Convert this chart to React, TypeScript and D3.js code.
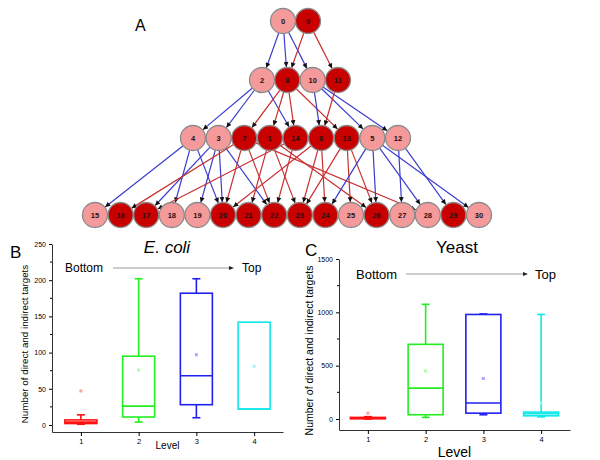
import React, { useEffect, useRef } from 'react'
import * as d3 from 'd3'

// network (panel A)
const level0 = ['0', '9']
const level1 = ['2', '8', '10', '11']
const level2 = ['4', '3', '7', '1', '14', '6', '13', '5', '12']
const level3 = ['15', '16', '17', '18', '19', '20', '21', '22', '23', '24', '25', '26', '27', '28', '29', '30']
const darkNodes = ['9', '8', '11', '7', '1', '14', '6', '13', '16', '17', '20', '21', '22', '23', '24', '26', '29']
const links: [string, string][] = [
  ['0', '2'], ['0', '8'], ['0', '10'], ['9', '8'], ['9', '11'],
  ['2', '4'], ['2', '3'], ['2', '14'],
  ['8', '7'], ['8', '1'], ['8', '14'], ['8', '13'],
  ['10', '6'], ['10', '5'], ['10', '12'], ['11', '6'],
  ['4', '15'], ['4', '18'], ['4', '20'],
  ['3', '17'], ['3', '19'], ['3', '20'], ['3', '22'],
  ['7', '16'], ['7', '20'], ['7', '22'], ['7', '28'],
  ['1', '21'], ['1', '23'], ['1', '26'],
  ['14', '17'], ['14', '22'],
  ['6', '20'], ['6', '23'], ['6', '24'],
  ['13', '23'], ['13', '25'], ['13', '26'],
  ['5', '24'], ['5', '26'], ['5', '28'], ['5', '30'],
  ['12', '27'], ['12', '29']
]

// box plots (panels B and C)
const levelTicks = [1, 2, 3, 4]
const ecoliWhiskerLow = [1, 4, 10, 22]
const ecoliQ1 = [2, 11, 28, 22]
const ecoliMedian = [4, 26, 68, 22]
const ecoliQ3 = [7, 95, 182, 142]
const ecoliWhiskerHigh = [14, 202, 202, 142]
const ecoliMean = [47, 76, 97, 81]
const ecoliTicks = [0, 50, 100, 150, 200, 250]

const yeastWhiskerLow = [0, 15, 40, 20]
const yeastQ1 = [2, 40, 55, 30]
const yeastMedian = [8, 290, 150, 50]
const yeastQ3 = [15, 700, 980, 65]
const yeastWhiskerHigh = [22, 1075, 985, 980]
const yeastMean = [55, 450, 380, 150]
const yeastTicks = [0, 500, 1000, 1500]

const boxColors = ['#ff1010', '#22ee22', '#2020f0', '#10e8e8']
const meanColors = ['#ffa0a0', '#a8ffa8', '#a8a8ff', '#a8f4f4']

const FONT = 'Liberation Sans, Arial, sans-serif'

const App = () => {
  const ref = useRef<SVGSVGElement>(null)

  useEffect(() => {
    const svg = d3.select(ref.current)
    svg.selectAll('*').remove()

    // ---------- A: network ----------
    const rows = [
      { nodes: level0, y: 21, range: [283, 308] },
      { nodes: level1, y: 80, range: [262, 338] },
      { nodes: level2, y: 138, range: [193, 398] },
      { nodes: level3, y: 215, range: [95, 479] }
    ]
    const pos = new Map<string, { x: number; y: number }>()
    rows.forEach(row => {
      const sx = d3.scalePoint<string>().domain(row.nodes).range(row.range as [number, number])
      row.nodes.forEach(n => pos.set(n, { x: sx(n)!, y: row.y }))
    })
    const r = 12.5

    svg.append('defs').append('marker')
      .attr('id', 'arrowHead')
      .attr('viewBox', '0 0 10 10')
      .attr('refX', 10).attr('refY', 5)
      .attr('markerWidth', 6).attr('markerHeight', 5)
      .attr('markerUnits', 'userSpaceOnUse')
      .attr('orient', 'auto')
      .append('path').attr('d', 'M0,0L10,5L0,10z').attr('fill', '#111')

    const net = svg.append('g')
    net.selectAll('line.edge')
      .data(links)
      .join('line')
      .attr('class', 'edge')
      .each(function (d) {
        const a = pos.get(d[0])!
        const b = pos.get(d[1])!
        const dx = b.x - a.x, dy = b.y - a.y
        const len = Math.hypot(dx, dy)
        const ux = dx / len, uy = dy / len
        d3.select(this)
          .attr('x1', a.x + ux * r).attr('y1', a.y + uy * r)
          .attr('x2', b.x - ux * (r + 0.5)).attr('y2', b.y - uy * (r + 0.5))
      })
      .attr('stroke', d => (darkNodes.includes(d[0]) ? '#c83030' : '#3c3cd0'))
      .attr('stroke-width', 1.2)
      .attr('marker-end', 'url(#arrowHead)')

    const allNodes = [...level0, ...level1, ...level2, ...level3]
    const ng = net.selectAll('g.node')
      .data(allNodes)
      .join('g')
      .attr('class', 'node')
      .attr('transform', d => `translate(${pos.get(d)!.x},${pos.get(d)!.y})`)
    ng.append('circle')
      .attr('r', r)
      .attr('fill', d => (darkNodes.includes(d) ? '#c80000' : '#f59a9a'))
      .attr('stroke', '#8a8a8a')
      .attr('stroke-width', 1.3)
    ng.append('text')
      .attr('text-anchor', 'middle')
      .attr('dy', '0.35em')
      .attr('font-family', FONT)
      .attr('font-size', 7.5)
      .attr('font-weight', 'bold')
      .attr('fill', '#2a1010')
      .text(d => d)

    svg.append('text').attr('x', 135).attr('y', 31)
      .attr('font-family', FONT).attr('font-size', 16).text('A')

    // ---------- B / C: box plots ----------
    const drawPanel = (cfg: {
      letter: string; letterX: number; letterY: number
      title: string; italic: boolean; titleX: number; titleY: number
      xRange: [number, number]; yDomain: [number, number]; yRange: [number, number]
      ticks: number[]; axisY: number
      lo: number[]; q1: number[]; med: number[]; q3: number[]; hi: number[]; mean: number[]
      boxW: number; tickFont: number; labelFont: number; levelFont: number
      yLabelX: number; levelY: number
      bottomX: number; topX: number; arrowX: [number, number]; arrowY: number; textY: number; bbFont: number
    }) => {
      const g = svg.append('g')
      const x = d3.scaleLinear().domain([0.5, 4.5]).range(cfg.xRange)
      const y = d3.scaleLinear().domain(cfg.yDomain).range(cfg.yRange)

      // axes
      const step = cfg.ticks[1] - cfg.ticks[0]
      const minor = cfg.ticks.slice(0, -1).map(t => t + step / 2)
      const yAxis = g.append('g').attr('transform', `translate(${cfg.xRange[0]},0)`)
        .call(d3.axisLeft(y).tickValues(cfg.ticks).tickFormat(d3.format('d')).tickSize(3).tickSizeOuter(0).tickPadding(3))
      yAxis.selectAll('text').attr('font-size', cfg.tickFont).attr('font-family', FONT)
      yAxis.append('g').selectAll('line').data(minor).join('line')
        .attr('x1', -2).attr('x2', 0).attr('y1', d => y(d)).attr('y2', d => y(d))
        .attr('stroke', '#000')
      const xAxis = g.append('g').attr('transform', `translate(0,${cfg.axisY})`)
        .call(d3.axisBottom(x).tickValues(levelTicks).tickFormat(d3.format('d')).tickSize(4).tickSizeOuter(0).tickPadding(3))
      xAxis.selectAll('text').attr('font-size', cfg.tickFont + 0.5).attr('font-family', FONT)
      g.selectAll('.domain').attr('stroke', '#333')

      // boxes
      levelTicks.forEach((lv, i) => {
        const cx = x(lv)
        const col = boxColors[i]
        const hw = cfg.boxW / 2
        const bg = g.append('g').attr('stroke', col).attr('stroke-width', 1.6).attr('fill', 'none')
        if (cfg.hi[i] > cfg.q3[i]) {
          bg.append('line').attr('x1', cx).attr('x2', cx).attr('y1', y(cfg.q3[i])).attr('y2', y(cfg.hi[i]))
          bg.append('line').attr('x1', cx - 4).attr('x2', cx + 4).attr('y1', y(cfg.hi[i])).attr('y2', y(cfg.hi[i]))
        }
        if (cfg.lo[i] < cfg.q1[i]) {
          bg.append('line').attr('x1', cx).attr('x2', cx).attr('y1', y(cfg.q1[i])).attr('y2', y(cfg.lo[i]))
          bg.append('line').attr('x1', cx - 4).attr('x2', cx + 4).attr('y1', y(cfg.lo[i])).attr('y2', y(cfg.lo[i]))
        }
        bg.append('rect').attr('x', cx - hw).attr('width', cfg.boxW)
          .attr('y', y(cfg.q3[i])).attr('height', Math.max(1, y(cfg.q1[i]) - y(cfg.q3[i])))
        bg.append('line').attr('x1', cx - hw).attr('x2', cx + hw).attr('y1', y(cfg.med[i])).attr('y2', y(cfg.med[i]))
        g.append('rect').attr('x', cx - 1.5).attr('y', y(cfg.mean[i]) - 1.5)
          .attr('width', 3).attr('height', 3).attr('fill', meanColors[i])
      })

      // labels
      g.append('text').attr('x', cfg.letterX).attr('y', cfg.letterY)
        .attr('font-family', FONT).attr('font-size', 17).text(cfg.letter)
      g.append('text').attr('x', cfg.titleX).attr('y', cfg.titleY)
        .attr('text-anchor', 'middle').attr('font-family', FONT).attr('font-size', 17)
        .attr('font-style', cfg.italic ? 'italic' : 'normal').text(cfg.title)
      g.append('text').attr('x', cfg.bottomX).attr('y', cfg.textY)
        .attr('font-family', FONT).attr('font-size', cfg.bbFont).text('Bottom')
      g.append('text').attr('x', cfg.topX).attr('y', cfg.textY)
        .attr('font-family', FONT).attr('font-size', cfg.bbFont).text('Top')
      g.append('line').attr('x1', cfg.arrowX[0]).attr('x2', cfg.arrowX[1] - 4)
        .attr('y1', cfg.arrowY).attr('y2', cfg.arrowY).attr('stroke', '#bdbdbd').attr('stroke-width', 1.5)
      g.append('path')
        .attr('d', `M${cfg.arrowX[1]},${cfg.arrowY}l-5,-2v4z`).attr('fill', '#222')
      const midY = (cfg.yRange[0] + cfg.yRange[1]) / 2
      g.append('text')
        .attr('transform', `translate(${cfg.yLabelX},${midY + 6}) rotate(-90)`)
        .attr('text-anchor', 'middle').attr('font-family', FONT).attr('font-size', cfg.labelFont)
        .text('Number of direct and indirect targets')
      g.append('text').attr('x', (cfg.xRange[0] + cfg.xRange[1]) / 2).attr('y', cfg.levelY)
        .attr('text-anchor', 'middle').attr('font-family', FONT).attr('font-size', cfg.levelFont)
        .text('Level')
    }

    drawPanel({
      letter: 'B', letterX: 10, letterY: 258,
      title: 'E. coli', italic: true, titleX: 167, titleY: 253,
      xRange: [52, 283], yDomain: [-9.7, 250], yRange: [432, 244],
      ticks: ecoliTicks, axisY: 432,
      lo: ecoliWhiskerLow, q1: ecoliQ1, med: ecoliMedian, q3: ecoliQ3, hi: ecoliWhiskerHigh, mean: ecoliMean,
      boxW: 32, tickFont: 7, labelFont: 9.8, levelFont: 10,
      yLabelX: 28, levelY: 449,
      bottomX: 65, topX: 242, arrowX: [113, 234], arrowY: 268, textY: 272, bbFont: 12
    })

    drawPanel({
      letter: 'C', letterX: 305, letterY: 256,
      title: 'Yeast', italic: false, titleX: 457, titleY: 253,
      xRange: [339, 570], yDomain: [-103, 1500], yRange: [430, 259],
      ticks: yeastTicks, axisY: 430,
      lo: yeastWhiskerLow, q1: yeastQ1, med: yeastMedian, q3: yeastQ3, hi: yeastWhiskerHigh, mean: yeastMean,
      boxW: 35, tickFont: 7, labelFont: 10.5, levelFont: 14,
      yLabelX: 313, levelY: 457,
      bottomX: 356, topX: 535, arrowX: [406, 528], arrowY: 274, textY: 279, bbFont: 13
    })
  }, [])

  return (
    <svg
      ref={ref}
      width={600}
      height={460}
      style={{ position: 'absolute', left: 0, top: 0, background: '#fff' }}
    />
  )
}

export default App
